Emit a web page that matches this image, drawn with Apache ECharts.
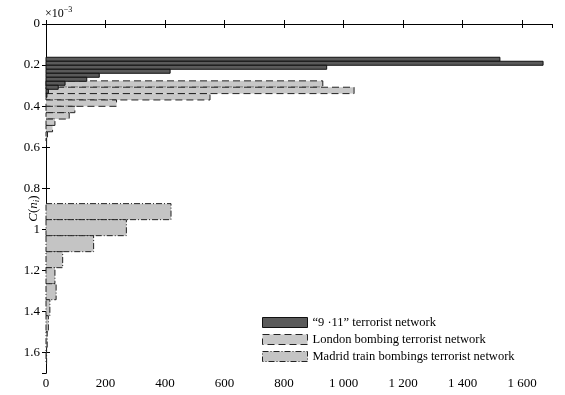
<!DOCTYPE html>
<html>
<head>
<meta charset="utf-8">
<script src="https://cdn.jsdelivr.net/npm/echarts@6/dist/echarts.min.js"></script>
<style>html,body{margin:0;padding:0;background:#fff}#c{width:565px;height:395px}</style>
</head>
<body>
<div id="c"></div>
<script>
// Values (C(n_i) in units of 1e-3 on the y axis; counts on the x axis)
const xTicks = [0, 200, 400, 600, 800, 1000, 1200, 1400, 1600];
const yTicks = [0, 0.2, 0.4, 0.6, 0.8, 1, 1.2, 1.4, 1.6];

const nineEdges = [0.162, 0.1815, 0.201, 0.2205, 0.24, 0.2595, 0.279, 0.2985, 0.318, 0.3375, 0.357];
const nineCounts = [1525, 1670, 943, 417, 179, 137, 64, 41, 8, 3];

const londonEdges = [0.277, 0.308, 0.339, 0.370, 0.401, 0.432, 0.463, 0.494, 0.525, 0.556, 0.587];
const londonCounts = [930, 1035, 551, 237, 97, 78, 30, 22, 5, 2];

const madridEdges = [0.875, 0.953, 1.031, 1.109, 1.187, 1.265, 1.343, 1.421, 1.499, 1.577, 1.655];
const madridCounts = [420, 270, 160, 56, 30, 34, 13, 8, 4, 2];

const seriesNames = ['\u201c9 \u00b711\u201d terrorist network', 'London bombing terrorist network', 'Madrid train bombings terrorist network'];

function bins(edges, counts) {
  return counts.map((c, i) => [edges[i], edges[i + 1], c]);
}
function renderBar(params, api) {
  const y0 = api.value(0), y1 = api.value(1), v = api.value(2);
  const p0 = api.coord([0, y0]);
  const p1 = api.coord([v, y1]);
  return {
    type: 'rect',
    shape: { x: p0[0], y: Math.min(p0[1], p1[1]), width: p1[0] - p0[0], height: Math.abs(p1[1] - p0[1]) },
    style: api.style()
  };
}
const font = 'Liberation Serif';
const styles = [
  { color: '#5a5a5a', borderColor: '#111', borderWidth: 1, borderType: 'solid' },
  { color: '#c8c8c8', borderColor: '#222', borderWidth: 1, borderType: [7, 4] },
  { color: '#c4c4c4', borderColor: '#222', borderWidth: 1, borderType: [6, 2, 1, 2] }
];
const chart = echarts.init(document.getElementById('c'), null, { renderer: 'canvas' });
const thousands = v => v >= 1000 ? Math.floor(v / 1000) + ' ' + String(v % 1000).padStart(3, '0') : String(v);
const axisCommon = {
  type: 'value',
  axisLine: { show: true, lineStyle: { color: '#000', width: 1 } },
  axisTick: { show: true, inside: true, length: 4, lineStyle: { color: '#000' } },
  splitLine: { show: false }
};
chart.setOption({
  animation: false,
  backgroundColor: '#fff',
  textStyle: { fontFamily: font },
  grid: { left: 46, right: 13, top: 24, bottom: 22, containLabel: false, outerBoundsMode: 'none' },
  xAxis: [
    Object.assign({}, axisCommon, {
      position: 'bottom', min: 0, max: 1700, interval: 200,
      axisLabel: { show: true, margin: 4, color: '#000', fontSize: 13, fontFamily: font, showMaxLabel: false,
        formatter: v => xTicks.includes(v) ? thousands(v) : '' }
    }),
    Object.assign({}, axisCommon, {
      position: 'top', min: 0, max: 1700, interval: 200, axisLabel: { show: false }
    })
  ],
  yAxis: [
    Object.assign({}, axisCommon, {
      position: 'left', inverse: true, min: 0, max: 1.7, interval: 0.2,
      axisLabel: { show: true, margin: 6, color: '#000', fontSize: 13, fontFamily: font, showMaxLabel: false,
        formatter: v => { const r = +v.toFixed(1); return yTicks.includes(r) ? String(r) : ''; } },
      name: '{it|C}({it|n}{sub|i})', nameLocation: 'middle', nameRotate: 90, nameGap: 5,
      nameMoveOverlap: false,
      nameTextStyle: { color: '#000', fontSize: 13, fontFamily: font, padding: [0, 20, 0, 0],
        rich: { it: { fontStyle: 'italic', fontSize: 13, fontFamily: font, color: '#000' },
                sub: { fontStyle: 'italic', fontSize: 9, fontFamily: font, color: '#000', verticalAlign: 'bottom', padding: [6, 0, 0, 0] } } }
    }),
    Object.assign({}, axisCommon, {
      position: 'right', inverse: true, min: 0, max: 1.7, interval: 0.2, axisLabel: { show: false }
    })
  ],
  legend: {
    orient: 'vertical', left: 257, top: 311, itemWidth: 45, itemHeight: 10, itemGap: 4,
    icon: 'rect',
    textStyle: { color: '#000', fontSize: 12.5, fontFamily: font },
    data: seriesNames.map((n, i) => ({ name: n, icon: 'rect', itemStyle: styles[i] }))
  },
  graphic: [{
    type: 'text', left: 45, top: 6,
    style: { text: '\u00d710{sup|\u22123}', fontFamily: font, fontSize: 12, fill: '#000',
      rich: { sup: { fontSize: 8, fontFamily: font, fill: '#000', padding: [0, 0, 7, 0] } } }
  }],
  series: [
    {
      name: seriesNames[2], type: 'custom', renderItem: renderBar, xAxisIndex: 0, yAxisIndex: 0, z: 1,
      encode: { x: 2, y: [0, 1] },
      itemStyle: styles[2],
      data: bins(madridEdges, madridCounts)
    },
    {
      name: seriesNames[1], type: 'custom', renderItem: renderBar, xAxisIndex: 0, yAxisIndex: 0, z: 2,
      encode: { x: 2, y: [0, 1] },
      itemStyle: styles[1],
      data: bins(londonEdges, londonCounts)
    },
    {
      name: seriesNames[0], type: 'custom', renderItem: renderBar, xAxisIndex: 0, yAxisIndex: 0, z: 3,
      encode: { x: 2, y: [0, 1] },
      itemStyle: styles[0],
      data: bins(nineEdges, nineCounts)
    }
  ]
});
</script>
</body>
</html>
